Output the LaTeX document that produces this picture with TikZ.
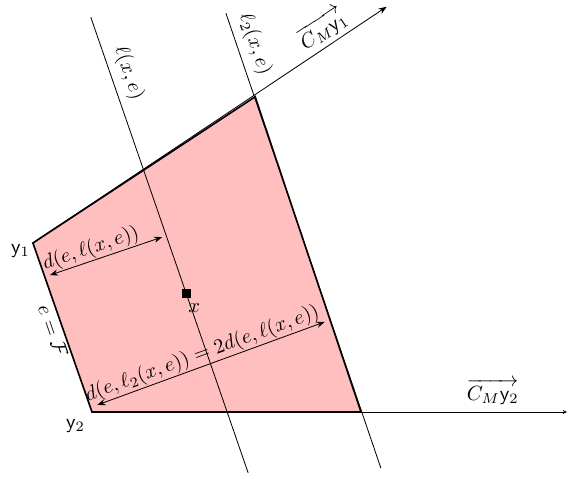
\documentclass[tikz,border=0pt]{standalone}
\usepackage{amsmath}
\usepackage{amssymb}
\usetikzlibrary{arrows.meta, positioning, calc}

\begin{document}
\begin{tikzpicture}[>={Stealth[length=4pt,width=3pt]}]
    \useasboundingbox (-1.573,-1.129) rectangle (8.157,7.045);
    % Corners of the region
    \coordinate (y1) at (-1.01,2.89);
    \coordinate (y2) at (0,0);
    \coordinate (top) at (2.79,5.39);
    \coordinate (corner) at (4.60,0);
    % Ends of rays and lines
    \coordinate (rayOne) at (5.04,6.93);
    \coordinate (rayTwo) at (8.12,0);
    \coordinate (lTop) at (-0.02,6.75);
    \coordinate (lBot) at (2.67,-1.04);
    \coordinate (lTwoTop) at (2.29,6.82);
    \coordinate (lTwoBot) at (4.94,-0.96);
    % Ends of distance arrows
    \coordinate (dA) at (-0.72,2.34);
    \coordinate (dB) at (1.20,2.99);
    \coordinate (dC) at (0.09,0.12);
    \coordinate (dD) at (3.98,1.54);

    % Region
    \fill[red!25] (y1) -- (top) -- (corner) -- (y2) -- cycle;

    % Rays
    \draw[->] (y1) -- (rayOne) node[pos=0.845, above, sloped, inner sep=2pt] {$\overrightarrow{C_M\mathsf{y}_1}$};
    \draw[-{Stealth[length=2pt,width=2pt]}] (y2) -- (rayTwo) node[pos=0.844, above] {$\overrightarrow{C_M\mathsf{y}_2}$};

    % Lines l and l2
    \draw (lTop) -- (lBot) node[pos=0.135, above, sloped] {$\ell(x,e)$};
    \draw (lTwoTop) -- (lTwoBot) node[pos=0.08, above, sloped] {$\ell_2(x,e)$};

    % Border of the region
    \draw[thick] (top) -- (corner) -- (y2) -- (y1) node[midway, below, sloped, inner sep=1pt] {$e=\mathcal{F}$} -- cycle;

    % Point x
    \node[fill=black, minimum size=4.5pt, inner sep=0pt] (xpt) at ($(lTop)!0.606!(lBot)$) {};
    \node[below=-1pt of xpt, xshift=4pt] (xlab) {$x$};

    % Vertex labels
    \node[left=-2pt of y1, yshift=-4pt] (yOneLab) {$\mathsf{y}_1$};
    \node[below left=0pt and 0pt of y2] (yTwoLab) {$\mathsf{y}_2$};

    % Distances
    \draw[<->] (dA) -- (dB) node[pos=0.40, above, sloped, inner sep=0.5pt] {$d(e,\ell(x,e))$};
    \draw[<->] (dC) -- (dD) node[pos=0.48, above, sloped, inner sep=0.5pt] {$d(e,\ell_2(x,e))=2d(e,\ell(x,e))$};
\end{tikzpicture}
\end{document}
